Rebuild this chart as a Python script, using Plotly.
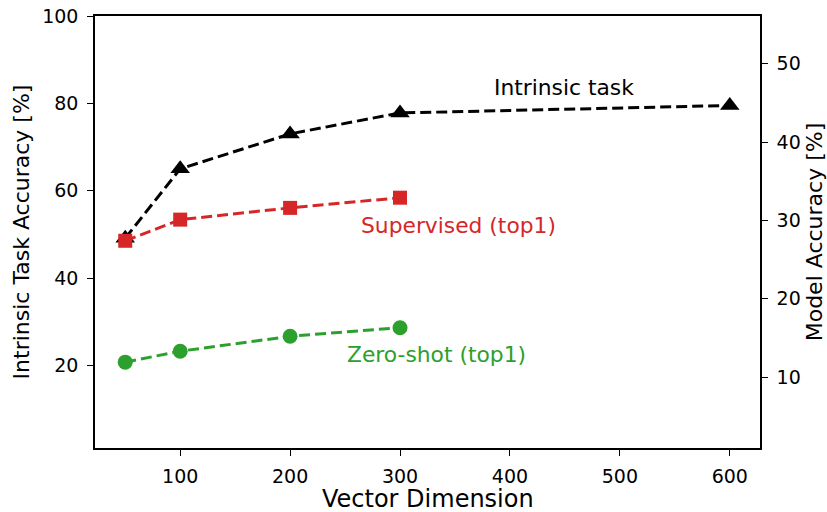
import plotly.graph_objects as go

dims_intrinsic = [50, 100, 200, 300, 600]
intrinsic_acc = [49.1, 65.0, 73.0, 77.8, 79.5]

dims_model = [50, 100, 200, 300]
supervised_top1 = [27.4, 30.1, 31.6, 32.9]
zeroshot_top1 = [11.9, 13.3, 15.2, 16.3]

left_ticks = [20, 40, 60, 80, 100]
right_ticks = [10, 20, 30, 40, 50]
x_ticks = [100, 200, 300, 400, 500, 600]

FONT = "DejaVu Sans"
dash = "11px,5px"

fig = go.Figure()
fig.add_trace(go.Scatter(
    x=dims_intrinsic, y=intrinsic_acc, mode="lines+markers", yaxis="y",
    line=dict(color="black", width=3, dash=dash),
    marker=dict(symbol="triangle-up", size=17, color="black"),
    name="Intrinsic task", showlegend=False))
fig.add_trace(go.Scatter(
    x=dims_model, y=supervised_top1, mode="lines+markers", yaxis="y2",
    line=dict(color="#d62728", width=3, dash=dash),
    marker=dict(symbol="square", size=14, color="#d62728"),
    name="Supervised (top1)", showlegend=False))
fig.add_trace(go.Scatter(
    x=dims_model, y=zeroshot_top1, mode="lines+markers", yaxis="y2",
    line=dict(color="#2ca02c", width=3, dash=dash),
    marker=dict(symbol="circle", size=15, color="#2ca02c"),
    name="Zero-shot (top1)", showlegend=False))

fig.add_annotation(x=384, y=83.6, xref="x", yref="y", text="Intrinsic task",
                   showarrow=False, xanchor="left", yanchor="middle",
                   font=dict(family=FONT, size=21.8, color="black"))
fig.add_annotation(x=262.3, y=52.1, xref="x", yref="y", text="Supervised (top1)",
                   showarrow=False, xanchor="left", yanchor="middle",
                   font=dict(family=FONT, size=21.8, color="#d62728"))
fig.add_annotation(x=250.3, y=22.4, xref="x", yref="y", text="Zero-shot (top1)",
                   showarrow=False, xanchor="left", yanchor="middle",
                   font=dict(family=FONT, size=21.8, color="#2ca02c"))
# x-axis title
fig.add_annotation(x=0.5, y=-0.118, xref="paper", yref="paper", text="Vector Dimension",
                   showarrow=False, xanchor="center", yanchor="middle",
                   font=dict(family=FONT, size=24, color="black"))

axis_common = dict(showgrid=False, zeroline=False, showline=True, linecolor="black",
                   linewidth=1.5, ticks="outside", ticklen=6, tickwidth=1.3,
                   tickcolor="black", tickfont=dict(family=FONT, size=19, color="black"),
                   automargin=False)

fig.update_layout(
    width=827, height=512,
    margin=dict(l=95, r=67, t=16, b=64, autoexpand=False),
    plot_bgcolor="white", paper_bgcolor="white",
    font=dict(family=FONT, color="black"),
    xaxis=dict(range=[22.5, 627.5], tickvals=x_ticks, mirror=True,
               ticklabelstandoff=4, **axis_common),
    yaxis=dict(range=[1.07, 100], tickvals=left_ticks,
               title=dict(text="Intrinsic Task Accuracy [%]", font=dict(family=FONT, size=22), standoff=6),
               ticklabelstandoff=5, **axis_common),
    yaxis2=dict(range=[0.94, 56.1], tickvals=right_ticks, overlaying="y", side="right",
                title=dict(text="Model Accuracy [%]", font=dict(family=FONT, size=22), standoff=10),
                ticklabelstandoff=5, **axis_common),
)

fig.write_html("out.html")
